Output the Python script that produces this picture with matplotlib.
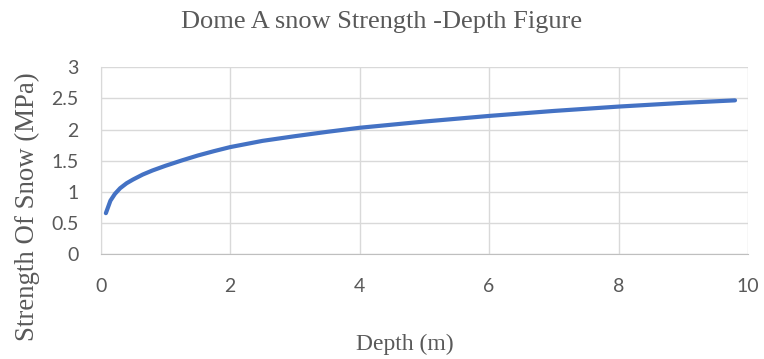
import matplotlib
matplotlib.use("Agg")
import matplotlib.pyplot as plt

# depth (m) vs snow strength (MPa)
depth = [0.08, 0.15, 0.22, 0.3, 0.4, 0.5, 0.65, 0.8, 1.0, 1.25, 1.5, 1.75,
         2.0, 2.5, 3.0, 3.5, 4.0, 5.0, 6.0, 7.0, 8.0, 9.0, 9.8]
strength = [0.66, 0.86, 0.97, 1.06, 1.14, 1.20, 1.28, 1.345, 1.42, 1.505, 1.585,
            1.655, 1.72, 1.82, 1.895, 1.965, 2.03, 2.13, 2.22, 2.30, 2.37, 2.43, 2.47]

x_ticks = [0, 2, 4, 6, 8, 10]
y_ticks = [0, 0.5, 1, 1.5, 2, 2.5, 3]

GRAY = "#595959"
SERIF = ["Liberation Serif", "DejaVu Serif"]
SANS = ["Lato", "DejaVu Sans"]

fig = plt.figure(figsize=(7.64, 3.59), dpi=100)
ax = fig.add_axes([0.1318, 0.2916, 0.979 - 0.1318, 0.8125 - 0.2916])

ax.plot(depth, strength, color="#4472C4", lw=3, solid_capstyle="round",
        solid_joinstyle="round")

ax.set_xlim(0, 10)
ax.set_ylim(0, 3)
ax.set_xticks(x_ticks)
ax.set_yticks(y_ticks)
ax.set_xticklabels([f"{t:g}" for t in x_ticks], family=SANS, fontsize=14, color=GRAY)
ax.set_yticklabels([f"{t:g}" for t in y_ticks], family=SANS, fontsize=14, color=GRAY)
ax.tick_params(axis="x", length=0, pad=17)
ax.tick_params(axis="y", length=0, pad=16)

ax.grid(True, color="#d9d9d9", lw=1)
ax.set_axisbelow(True)
for side in ("top", "right"):
    ax.spines[side].set_visible(False)
ax.spines["left"].set_color("#d9d9d9")
ax.spines["bottom"].set_color("#bfbfbf")

fig.text(0.5, 0.938, "Dome A snow Strength -Depth Figure", ha="center", va="center",
         family=SERIF, fontsize=19, color=GRAY)
fig.text(0.53, 0.04, "Depth (m)", ha="center", va="center",
         family=SERIF, fontsize=17, color=GRAY)
fig.text(0.036, 0.423, "Strength Of Snow (MPa)", ha="center", va="center",
         rotation=90, family=SERIF, fontsize=19.3, color=GRAY)

fig.savefig("out.png", dpi=100)
